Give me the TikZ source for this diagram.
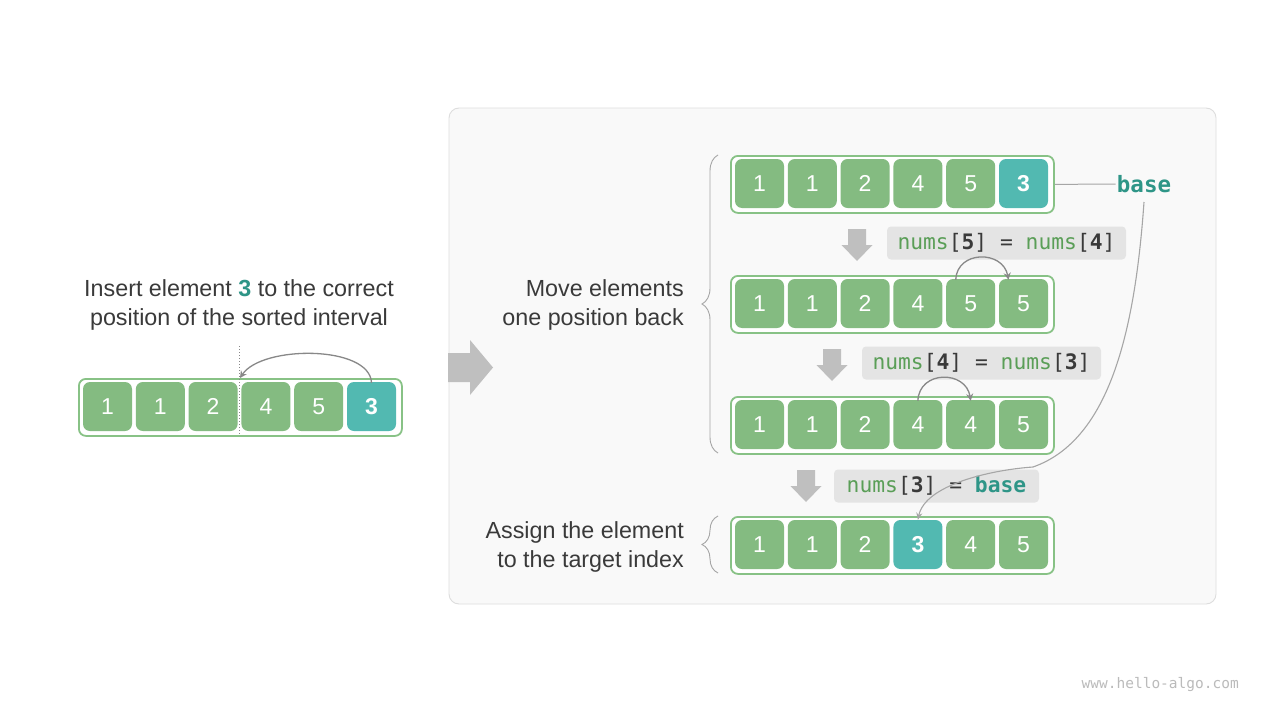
\documentclass[tikz,border=0pt]{standalone}
\usepackage{fontspec}
\setmainfont{Liberation Sans}
\newfontfamily\codefont{DejaVu Sans Mono}
\usetikzlibrary{arrows.meta,decorations.pathreplacing}
\definecolor{cgreen}{HTML}{84BB81}
\definecolor{cteal}{HTML}{52B9B1}
\definecolor{cborder}{HTML}{88C286}
\definecolor{ctealtxt}{HTML}{2E9587}
\definecolor{cnums}{HTML}{5A9E57}
\definecolor{cdark}{HTML}{3A3A3A}
\definecolor{codebg}{HTML}{E4E4E4}
\definecolor{panelbg}{HTML}{F9F9F9}
\definecolor{panelline}{HTML}{DDDDDD}
\definecolor{blockgray}{HTML}{BFBFBF}
\definecolor{arcgray}{HTML}{888888}
\definecolor{linegray}{HTML}{A6A6A6}
\definecolor{wmgray}{HTML}{BBBBBB}
\tikzset{
  outer/.style={draw=cborder, line width=1.8pt, fill=white, rounded corners=7pt,
    minimum width=323pt, minimum height=57pt, inner sep=0pt},
  cell/.style={fill=cgreen, rounded corners=7pt, minimum width=49pt, minimum height=49pt,
    inner sep=0pt, text=white, font=\fontsize{23}{23}\selectfont},
  tcell/.style={cell, fill=cteal, font=\fontsize{23}{23}\selectfont\bfseries},
  codebox/.style={fill=codebg, rounded corners=4pt, minimum height=33pt, inner sep=0pt,
    text=cdark, font=\codefont\fontsize{21.3}{21.3}\selectfont},
  arc/.style={draw=arcgray, line width=1.3pt, -{Stealth[length=7pt,width=7pt]}},
  txt/.style={text=cdark, font=\fontsize{23.3}{28.5}\selectfont, inner sep=0pt},
  brc/.style={draw=linegray, line width=0.9pt, decorate, decoration={brace, amplitude=16pt, aspect=0.5}},
}
\newcommand{\cellrow}[4]{%
  \node[outer, anchor=north west] (#1) at (#2,#3) {};
  \foreach \v/\s [count=\i] in {#4} {
    \node[\s] (#1c\i) at ({#2+29.5+(\i-1)*52.8},{#3+28.5}) {\v};
  }%
}
\newcommand{\nm}{\textcolor{cnums}{nums}}
\newcommand{\ix}[1]{[\textbf{#1}]}
\begin{document}
\begin{tikzpicture}[x=1pt,y=-1pt]
\useasboundingbox (0,0) rectangle (1280,720);
\fill[white] (0,0) rectangle (1280,720);
% panel
\draw[panelline, fill=panelbg, line width=0.9pt, rounded corners=10pt] (449,108) rectangle (1216,604);
% big arrow
\fill[blockgray] (448,353) -- (470,353) -- (470,340) -- (493,367.5) -- (470,395) -- (470,382) -- (448,382) -- cycle;
% left part
\node[txt, align=center] (title) at (239,305) {Insert element \textcolor{ctealtxt}{\textbf{3}} to the correct\\position of the sorted interval};
\cellrow{l}{78}{378}{1/cell,1/cell,2/cell,4/cell,5/cell,3/tcell}
\coordinate (dtop) at (239,346);
\coordinate (dbot) at (239,435);
\draw[arcgray, line width=1pt, dotted] (dtop) -- (dbot);
\coordinate (ins) at (240,378);
\draw[arc] ([yshift=-1pt]lc6.north) .. controls (370,345) and (262,345) .. (ins);
% right part rows
\cellrow{ra}{730}{155}{1/cell,1/cell,2/cell,4/cell,5/cell,3/tcell}
\cellrow{rb}{730}{275}{1/cell,1/cell,2/cell,4/cell,5/cell,5/cell}
\cellrow{rc}{730}{396}{1/cell,1/cell,2/cell,4/cell,4/cell,5/cell}
\cellrow{rd}{730}{516}{1/cell,1/cell,2/cell,3/tcell,4/cell,5/cell}
% down arrows
\fill[blockgray] (848,229) -- (866,229) -- (866,245) -- (872.5,245) -- (857,261) -- (841.5,245) -- (848,245) -- cycle;
\fill[blockgray] (823,349) -- (841,349) -- (841,365) -- (847.5,365) -- (832,381) -- (816.5,365) -- (823,365) -- cycle;
\fill[blockgray] (797,470) -- (815,470) -- (815,486) -- (821.5,486) -- (806,502) -- (790.5,486) -- (797,486) -- cycle;
% code boxes
\node[codebox, minimum width=239pt] (c1) at (1006.5,243) {\nm\ix{5} = \nm\ix{4}};
\node[codebox, minimum width=239pt] (c2) at (981.5,363) {\nm\ix{4} = \nm\ix{3}};
\node[codebox, minimum width=205pt] (c3) at (936.5,486) {\nm\ix{3} = \textcolor{ctealtxt}{\textbf{base}}};
% base label
\node[text=ctealtxt, font=\codefont\fontsize{22.5}{22.5}\selectfont\bfseries, inner sep=0pt] (base) at (1144,184) {base};
\draw[linegray, line width=1pt] (ra.east) -- ([xshift=-1pt]base.west);
\draw[draw=linegray, line width=1.1pt, -{Stealth[length=7pt,width=6pt]}] (1144,202) .. controls (1135,330) and (1110,440) .. (1033,467) .. controls (990,470) and (925,485) .. (rdc4.north);
% arcs
\draw[arc] ([xshift=-15pt,yshift=-1pt]rbc5.north) .. controls (957,250) and (1003,250) .. ([xshift=-15pt,yshift=-1pt]rbc6.north);
\draw[arc] ([yshift=-1pt]rcc4.north) .. controls (919,370) and (966,370) .. ([yshift=-1pt]rcc5.north);
% braces
\coordinate (b1a) at (718,453);
\coordinate (b1b) at (718,155);
\coordinate (b2a) at (718,573);
\coordinate (b2b) at (718,516);
\draw[brc] (b1a) -- (b1b);
\draw[brc] (b2a) -- (b2b);
\node[txt, align=right, anchor=east] (move) at (684,305) {Move elements\\one position back};
\node[txt, align=right, anchor=east] (assign) at (684,547) {Assign the element\\to the target index};
% watermark
\node[text=wmgray, font=\codefont\fontsize{14.5}{14.5}\selectfont, anchor=east, inner sep=0pt] (wm) at (1239,685) {www.hello-algo.com};
\end{tikzpicture}
\end{document}
